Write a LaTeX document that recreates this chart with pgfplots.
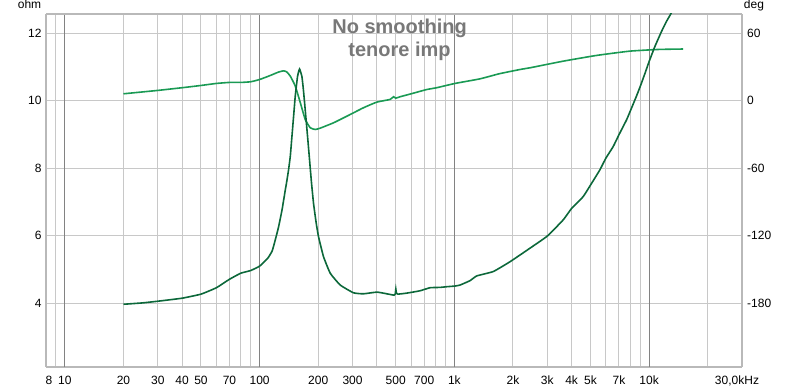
\documentclass[border=0pt]{standalone}
\usepackage{pgfplots}
\pgfplotsset{compat=1.18}
\usepackage{fontspec}
\setmainfont{Liberation Sans}
\definecolor{impc}{RGB}{12,104,58}
\definecolor{phc}{RGB}{26,154,84}
\definecolor{mingrid}{RGB}{200,200,200}
\definecolor{majgrid}{RGB}{130,130,130}
\definecolor{frame}{RGB}{185,185,185}
\definecolor{titlec}{RGB}{120,120,120}
\begin{document}
\begin{tikzpicture}
\path[use as bounding box] (0,0) rectangle (800bp,388bp);
% phase axis (right) with grids
\begin{axis}[
  at={(46bp,21.3bp)}, anchor=south west,
  scale only axis, width=696bp, height=353bp,
  xmode=log, xmin=8, xmax=30000,
  ymin=-236.4, ymax=77.4,
  axis y line*=right,
  axis x line*=bottom,
  axis line style={draw=frame, line width=2bp},
  major tick length=0pt, minor tick length=0pt,
  xtick={8,10,20,30,40,50,70,100,200,300,500,700,1000,2000,3000,4000,5000,7000,10000,30000},
  xticklabels={\hspace*{6bp}8,10,20,30,40,50,70,100,200,300,500,700,1k,2k,3k,4k,5k,7k,10k,\hspace*{-10bp}30{,}0kHz},
  minor xtick={9,20,30,40,50,60,70,80,90,200,300,400,500,600,700,800,900,2000,3000,4000,5000,6000,7000,8000,9000,20000},
  xminorgrids=true,
  minor grid style={draw=mingrid, line width=1bp},
  extra x ticks={10,100,1000,10000},
  extra x tick labels={},
  extra x tick style={grid=major, major grid style={draw=majgrid, line width=1bp}},
  ytick={-180,-120,-60,0,60},
  yticklabels={-180,-120,-60,0,60},
  ymajorgrids=true,
  major grid style={draw=mingrid, line width=1bp},
  xticklabel style={anchor=base, inner sep=0pt, yshift=-17.3bp, font=\fontsize{12bp}{14bp}\selectfont},
  yticklabel style={anchor=west, inner sep=0pt, xshift=5bp, font=\fontsize{12bp}{14bp}\selectfont},
  clip=true,
]
\addplot[phc, line width=1.6bp, smooth, tension=0.3] coordinates {
(20,6.2) (30,9.2) (40,11.6) (50,13.6) (60,15.4) (70,16.3) (80,16.3) (90,16.9)
(100,18.9) (113.5,22.5) (125,25.5) (132.8,26.6) (138,25.6) (143.7,21.9) (152.5,13)
(162.8,-3.3) (171.5,-16.6) (182,-24) (193,-25.5) (205,-24.3) (239.6,-19.6)
(280.7,-13.7) (341.6,-6.2) (400,-1.2) (468,1.2) (487,3.6) (500,2.3) (527,3.6)
(600,6.2) (722,10.0) (812,11.6) (1008,15.4) (1355,19.5) (1700,24) (2173,27.8)
(2443,29.3) (3622,35.2) (5375,40.3) (7950,44.1) (11122,45.6) (14942,46.0)
};
\end{axis}
% impedance axis (left)
\begin{axis}[
  at={(46bp,21.3bp)}, anchor=south west,
  scale only axis, width=696bp, height=353bp,
  xmode=log, xmin=8, xmax=30000,
  ymin=2.12, ymax=12.58,
  axis y line*=left,
  axis x line*=top,
  axis line style={draw=frame, line width=2bp},
  major tick length=0pt,
  xtick=\empty,
  ytick={4,6,8,10,12},
  yticklabels={4,6,8,10,12},
  yticklabel style={anchor=east, inner sep=0pt, xshift=-4.3bp, font=\fontsize{12bp}{14bp}\selectfont},
  clip=true,
]
\addplot[impc, line width=1.6bp, smooth, tension=0.25] coordinates {
(20,3.97) (25,4.01) (30,4.06) (40,4.15) (50,4.27) (60,4.46) (70,4.71) (80,4.89)
(90,4.97) (100,5.10) (110,5.33) (116,5.55) (120,5.85) (125,6.25) (130.3,6.76)
(135,7.3) (138.2,7.65) (140.8,7.95) (143.7,8.35) (146.6,8.95) (150,9.65) (152.5,10.15)
(156.6,10.72) (160.4,10.94) (165,10.71) (168,10.3) (171.5,9.73) (176.3,8.94)
(180.5,8.25) (184.5,7.6) (189.2,6.96) (195,6.4) (200.7,5.97) (212.9,5.38)
(230.5,4.89) (259.3,4.54) (303.5,4.31) (341.6,4.28) (400,4.33) (450,4.28)
(490,4.24) (497,4.27) (500.6,4.42) (504,4.30) (512.6,4.27) (570,4.30) (667,4.37)
(750,4.46) (845,4.47) (914,4.49) (1008,4.51) (1070,4.54) (1204,4.67) (1303,4.81)
(1585,4.94) (1931,5.23) (2443,5.63) (3000,5.99) (3622,6.47) (4000,6.81) (4587,7.16)
(5000,7.50) (5585,7.95) (6000,8.30) (6538,8.64) (7000,8.99) (7656,9.43) (8000,9.69)
(8617,10.14) (9000,10.42) (9537,10.82) (10000,11.16) (10697,11.6) (11576,12.05)
(12280,12.35) (13000,12.6) (13400,12.8)
};
\end{axis}
\node[anchor=base, text=titlec, font=\fontsize{20bp}{24bp}\selectfont\bfseries] at (399.6bp,354.7bp) {No smoothing};
\node[anchor=base, text=titlec, font=\fontsize{20bp}{24bp}\selectfont\bfseries] at (399.5bp,331.3bp) {tenore imp};
\node[anchor=base, inner sep=0pt, font=\fontsize{12bp}{14bp}\selectfont] at (29.5bp,379.7bp) {ohm};
\node[anchor=base, inner sep=0pt, font=\fontsize{12bp}{14bp}\selectfont] at (754bp,379.7bp) {deg};
\end{tikzpicture}
\end{document}
